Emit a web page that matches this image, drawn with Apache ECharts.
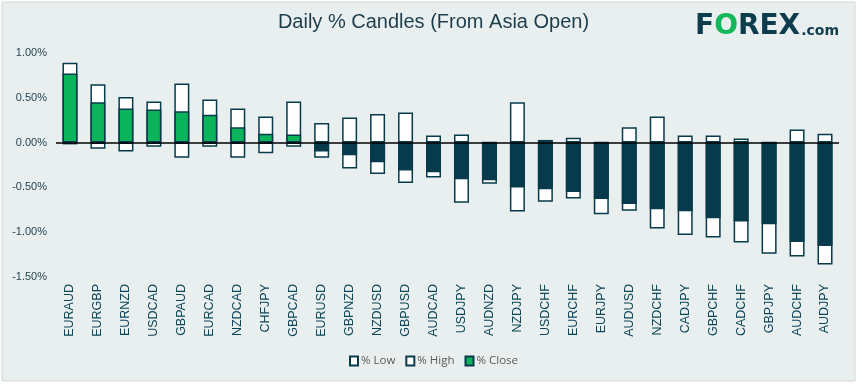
<!DOCTYPE html>
<html>
<head>
<meta charset="utf-8">
<script src="https://cdn.jsdelivr.net/npm/echarts@6/dist/echarts.min.js"></script>
<style>
html,body{margin:0;padding:0;background:#ffffff;}
#chart{width:867px;height:388px;}
</style>
</head>
<body>
<div id="chart"></div>
<script>
const categories = ['EURAUD','EURGBP','EURNZD','USDCAD','GBPAUD','EURCAD','NZDCAD','CHFJPY','GBPCAD','EURUSD','GBPNZD','NZDUSD','GBPUSD','AUDCAD','USDJPY','AUDNZD','NZDJPY','USDCHF','EURCHF','EURJPY','AUDUSD','NZDCHF','CADJPY','GBPCHF','CADCHF','GBPJPY','AUDCHF','AUDJPY'];
const highValues = [0.89,0.65,0.51,0.46,0.66,0.48,0.38,0.29,0.46,0.22,0.28,0.32,0.335,0.08,0.09,0,0.45,0.03,0.055,0,0.17,0.29,0.08,0.08,0.045,0,0.145,0.10];
const lowValues = [-0.02,-0.07,-0.10,-0.045,-0.17,-0.045,-0.17,-0.12,-0.045,-0.17,-0.29,-0.35,-0.45,-0.39,-0.67,-0.46,-0.77,-0.66,-0.625,-0.80,-0.76,-0.96,-1.03,-1.06,-1.115,-1.24,-1.27,-1.36];
const closeValues = [0.77,0.45,0.38,0.37,0.35,0.31,0.17,0.10,0.09,-0.10,-0.14,-0.22,-0.31,-0.33,-0.41,-0.42,-0.50,-0.52,-0.55,-0.63,-0.685,-0.745,-0.765,-0.845,-0.88,-0.91,-1.11,-1.155];
const yTicks = [-1.5,-1.0,-0.5,0,0.5,1.0];

const NAVY = '#073b4c';
const GREEN = '#0bb35b';
const TEXT = '#1d3d4d';

const chart = echarts.init(document.getElementById('chart'), null, {renderer:'canvas'});
const barCommon = {type:'bar', barWidth:15, barGap:'-100%', animation:false};
chart.setOption({
  backgroundColor:'#ffffff',
  animation:false,
  graphic:[
    {type:'rect', z:-10, shape:{x:2,y:2,width:853,height:379}, style:{fill:'#e9efef', stroke:'#d3d8d8', lineWidth:1}},
    {type:'text', left:'center', top:12, style:{text:'Daily % Candles (From Asia Open)', fill:TEXT, font:'20px "Liberation Sans", Arial, sans-serif'}},
    {type:'text', x:695, y:13, style:{
      text:'{a|F}{g|O}{a|REX}{c|.com}',
      rich:{
        a:{fill:'#0d3c4d', font:'bold 28px "DejaVu Sans", sans-serif'},
        g:{fill:'#12b85a', font:'bold 28px "DejaVu Sans", sans-serif'},
        c:{fill:'#0d3c4d', font:'bold 14px "DejaVu Sans", sans-serif', padding:[8,0,0,1]}
      }
    }}
  ],
  grid:{left:56, right:28, top:53, bottom:111},
  legend:{
    bottom:16, left:'center', itemWidth:8, itemHeight:9, itemGap:10,
    icon:'rect',
    textStyle:{color:'#5a5a5a', fontSize:11.5, fontFamily:'"Liberation Sans Narrow", "Open Sans", sans-serif', padding:[0,0,0,-2]},
    data:['% Low','% High','% Close']
  },
  xAxis:{
    type:'category', data:categories,
    axisLine:{show:false}, axisTick:{show:false},
    axisLabel:{rotate:90, margin:7, interval:0, color:'#0b4558', fontSize:12.5, fontFamily:'"Liberation Sans", Arial, sans-serif'}
  },
  yAxis:{
    type:'value', min:-1.5, max:1.0, interval:0.5,
    splitLine:{show:false}, axisLine:{show:false}, axisTick:{show:false},
    axisLabel:{margin:9, color:TEXT, fontSize:11, fontFamily:'"Liberation Sans", Arial, sans-serif', formatter:v=>v.toFixed(2)+'%'}
  },
  series:[
    Object.assign({}, barCommon, {name:'% Low', data:lowValues, itemStyle:{color:'#ffffff', borderColor:NAVY, borderWidth:1.5}}),
    Object.assign({}, barCommon, {name:'% High', data:highValues, itemStyle:{color:'#ffffff', borderColor:NAVY, borderWidth:1.5}}),
    Object.assign({}, barCommon, {name:'% Close',
      data:closeValues.map(v=>({value:v, itemStyle:{color: v>=0?GREEN:NAVY}})),
      itemStyle:{color:GREEN, borderColor:NAVY, borderWidth:1.5},
      markLine:{silent:true, symbol:['none','none'], label:{show:false}, lineStyle:{color:'#000000', width:1.5, type:'solid'}, data:[{yAxis:0}]}
    })
  ]
});
</script>
</body>
</html>
